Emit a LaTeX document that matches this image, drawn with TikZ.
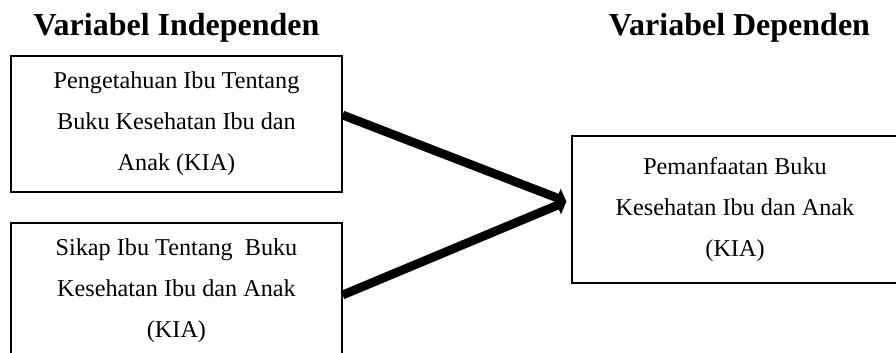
\documentclass[tikz,border=0pt]{standalone}
\usepackage{fontspec}
\setmainfont{Liberation Serif}
\usetikzlibrary{arrows.meta}

\tikzset{
  heading/.style={anchor=base, font=\fontsize{32}{36}\selectfont\bfseries, inner sep=0pt},
  varbox/.style={draw, line width=1.2pt, inner sep=0pt, align=center,
                 font=\fontsize{24.2}{41}\selectfont},
  link/.style={line width=8.8pt, -{Triangle[length=10pt,width=19pt]}}
}

\begin{document}
\begin{tikzpicture}[x=1pt,y=1pt]
  \useasboundingbox (0,0) rectangle (896,-353);

  % column headings
  \node[heading] (hin) at (176.5,-36) {Variabel Independen};
  \node[heading] (hdep) at (739.5,-36) {Variabel Dependen};

  % independent variables
  \node[varbox, minimum width=331pt, minimum height=136pt] (pengetahuan) at (176.5,-124)
    {Pengetahuan Ibu Tentang\\Buku Kesehatan Ibu dan\\Anak (KIA)};
  \node[varbox, minimum width=331pt, minimum height=136pt] (sikap) at (176.5,-291)
    {Sikap Ibu Tentang\ \ Buku\\Kesehatan Ibu dan Anak\\(KIA)};

  % dependent variable
  \node[varbox, minimum width=326pt, minimum height=147pt] (pemanfaatan) at (735,-209.5)
    {Pemanfaatan Buku\\Kesehatan Ibu dan Anak\\(KIA)};

  % arrow end points on the box borders
  \coordinate (s1) at ([yshift=9pt]pengetahuan.east);
  \coordinate (s2) at ([yshift=-4pt]sikap.east);
  \coordinate (t) at ([xshift=-5pt,yshift=8pt]pemanfaatan.west);

  \draw[link] (s1) -- (t);
  \draw[link] (s2) -- (t);
\end{tikzpicture}
\end{document}
